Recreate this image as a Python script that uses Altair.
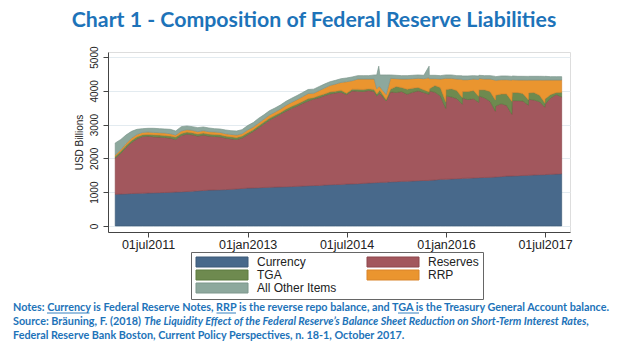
import altair as alt
import pandas as pd

# ---------------- data (USD billions) ----------------
dates = [
    "2011-01-01", "2011-02-01", "2011-03-01", "2011-04-01", "2011-05-01", "2011-06-01",
    "2011-07-01", "2011-08-01", "2011-09-01", "2011-10-01", "2011-11-01", "2011-12-01",
    "2012-01-01", "2012-02-01", "2012-03-01", "2012-04-01", "2012-05-01", "2012-06-01",
    "2012-07-01", "2012-08-01", "2012-09-01", "2012-10-01", "2012-11-01", "2012-12-01",
    "2013-01-01", "2013-02-01", "2013-03-01", "2013-04-01", "2013-05-01", "2013-06-01",
    "2013-07-01", "2013-08-01", "2013-09-01", "2013-10-01", "2013-11-01", "2013-12-01",
    "2014-01-01", "2014-02-01", "2014-03-01", "2014-04-01", "2014-05-01", "2014-06-01",
    "2014-07-01", "2014-08-01", "2014-09-01", "2014-10-01", "2014-11-01", "2014-12-01",
    "2014-12-15", "2014-12-26",
    "2015-01-01", "2015-02-05", "2015-03-01", "2015-04-01", "2015-05-01", "2015-06-01",
    "2015-07-01", "2015-08-01", "2015-09-01", "2015-09-30", "2015-10-01", "2015-11-01",
    "2015-12-01", "2015-12-31",
    "2016-01-01", "2016-02-01", "2016-03-01", "2016-03-31", "2016-04-01", "2016-05-01",
    "2016-06-01", "2016-06-30", "2016-07-01", "2016-08-01", "2016-09-01", "2016-09-30",
    "2016-10-01", "2016-11-01", "2016-12-01", "2016-12-30",
    "2017-01-01", "2017-02-01", "2017-03-01", "2017-03-31", "2017-04-01", "2017-05-01",
    "2017-06-01", "2017-06-30", "2017-07-01", "2017-08-01", "2017-09-01", "2017-10-01",
]

currency = [
    940, 945, 950, 960, 965, 970, 975, 980, 985, 990, 995, 1005,
    1010, 1020, 1030, 1040, 1050, 1060, 1065, 1070, 1075, 1085, 1095, 1110,
    1120, 1125, 1130, 1140, 1145, 1150, 1155, 1160, 1165, 1175, 1180, 1190,
    1195, 1200, 1210, 1220, 1225, 1230, 1240, 1245, 1250, 1260, 1270, 1280,
    1283, 1285,
    1290, 1295, 1305, 1310, 1320, 1325, 1330, 1340, 1345, 1348, 1350, 1360,
    1380, 1384,
    1385, 1390, 1400, 1405, 1410, 1415, 1420, 1428, 1430, 1435, 1440, 1448,
    1450, 1460, 1475, 1478,
    1480, 1485, 1495, 1498, 1500, 1510, 1515, 1518, 1520, 1530, 1535, 1545,
]

reserves = [
    1070, 1205, 1370, 1510, 1615, 1680, 1685, 1660, 1645, 1630, 1605, 1555,
    1670, 1700, 1670, 1620, 1640, 1600, 1585, 1570, 1525, 1495, 1465, 1490,
    1580, 1675, 1770, 1880, 1985, 2070, 2155, 2240, 2315, 2375, 2450, 2510,
    2565, 2600, 2650, 2690, 2715, 2730, 2650, 2755, 2740, 2720, 2740, 2700,
    2567, 2615,
    2635, 2405, 2665, 2640, 2660, 2575, 2630, 2660, 2605, 2552, 2650, 2600,
    2470, 2096,
    2465, 2430, 2370, 2200, 2380, 2325, 2350, 2230, 2420, 2355, 2250, 1950,
    2100, 2160, 2095, 1830,
    2230, 2225, 2205, 2080, 2250, 2220, 2165, 2000, 2080, 2260, 2355, 2275,
]

tga = [
    50, 60, 60, 60, 60, 50, 50, 60, 60, 60, 60, 70,
    60, 60, 60, 60, 60, 60, 60, 60, 60, 60, 60, 60,
    60, 50, 60, 60, 60, 60, 50, 60, 60, 60, 60, 70,
    40, 60, 50, 60, 50, 60, 40, 50, 60, 60, 50, 60,
    60, 80,
    95, 40, 80, 180, 120, 150, 120, 100, 80, 70, 60, 200,
    250, 200,
    190, 240, 240, 200, 190, 240, 240, 180, 180, 240, 290, 330,
    320, 290, 340, 380,
    240, 240, 220, 160, 190, 220, 190, 130, 160, 100, 60, 140,
]

rrp = [
    40, 50, 60, 70, 70, 70, 70, 70, 70, 70, 70, 60,
    70, 70, 70, 70, 70, 70, 70, 70, 70, 70, 70, 70,
    80, 80, 80, 80, 90, 90, 100, 110, 120, 130, 140, 150,
    130, 150, 170, 190, 210, 230, 340, 250, 300, 310, 290, 310,
    150, 150,
    100, 150, 320, 230, 250, 300, 280, 270, 330, 420, 300, 200,
    250, 690,
    330, 310, 340, 540, 350, 350, 340, 500, 340, 320, 370, 590,
    440, 420, 420, 630,
    380, 370, 400, 580, 380, 370, 450, 670, 560, 430, 370, 360,
]

other = [
    355, 300, 250, 200, 150, 110, 110, 120, 120, 120, 130, 120,
    130, 110, 110, 120, 110, 110, 100, 100, 110, 110, 120, 120,
    130, 130, 140, 130, 130, 120, 120, 120, 120, 120, 120, 120,
    120, 120, 120, 110, 110, 110, 110, 110, 100, 100, 100, 120,
    410, 600,
    350, 580, 100, 100, 100, 100, 100, 100, 100, 340, 100, 100,
    100, 100,
    100, 100, 100, 100, 110, 110, 100, 100, 90, 100, 100, 110,
    110, 110, 110, 110,
    110, 110, 110, 110, 110, 110, 110, 110, 110, 100, 100, 100,
]

series_names = ["Currency", "Reserves", "TGA", "RRP", "All Other Items"]
series_fill = ["#48698b", "#a2575d", "#6e8a4f", "#ea952f", "#8da89d"]
series_line = ["#3d5b78", "#8e474d", "#5d7a40", "#d9842a", "#7c978c"]

x_tick_labels = [(2011, 7), (2013, 1), (2014, 7), (2016, 1), (2017, 7)]
y_tick_values = [0, 1000, 2000, 3000, 4000, 5000]

title_text = "Chart 1 - Composition of Federal Reserve Liabilities"
note_line1 = ("Notes: Currency is Federal Reserve Notes, RRP is the reverse repo balance, "
              "and TGA is the Treasury General Account balance.")
note_line2a = "Source: Bräuning, F. (2018)"
note_line2b = ("The Liquidity Effect of the Federal Reserve’s Balance Sheet Reduction "
               "on Short-Term Interest Rates,")
note_line3 = "Federal Reserve Bank Boston, Current Policy Perspectives, n. 18-1, October 2017."

# ---------------- table ----------------
columns = [currency, reserves, tga, rrp, other]
assert all(len(c) == len(dates) for c in columns)
rows = []
for i, d in enumerate(dates):
    for k, name in enumerate(series_names):
        rows.append({"date": d, "series": name, "ord": k, "value": columns[k][i]})
df = pd.DataFrame(rows)

FONT = "Liberation Sans"
BLUE = "#1d73b9"

x_axis = alt.Axis(
    values=[alt.DateTime(year=y, month=m, date=1, utc=True) for y, m in x_tick_labels],
    labelExpr="lower(utcFormat(datum.value, '%d%b%Y'))",
    title=None, grid=False, tickSize=5, labelPadding=1,
    labelFont=FONT, labelFontSize=12.5, labelColor="#222",
    domainColor="#444", tickColor="#444", labelFlush=False, labelOverlap=False,
)
y_axis = alt.Axis(
    values=y_tick_values, format="d", labelAngle=270, labelAlign="center",
    labelBaseline="bottom", labelPadding=4, labelFont=FONT, labelFontSize=10,
    labelColor="#222",
    title="USD Billions", titleFont=FONT, titleFontSize=10, titleFontWeight="normal",
    titleColor="#222", titlePadding=5,
    grid=True, gridColor="#e3ebf0", gridWidth=1, tickSize=5,
    domainColor="#444", tickColor="#444",
)

legend = alt.Legend(
    orient="none", legendX=83, legendY=200, columns=2, direction="horizontal", title=None,
    symbolType="M-1,-1H9.4V1H-1Z", symbolSize=100, symbolStrokeWidth=1,
    symbolStrokeColor="rgba(0,0,0,0.3)", symbolOpacity=1, symbolOffset=0,
    labelOffset=50, labelFont=FONT, labelFontSize=12, labelColor="#222", labelLimit=300,
    padding=4, rowPadding=-2, columnPadding=28,
    strokeColor="#666", fillColor="white", cornerRadius=0,
)

area = alt.Chart(df).mark_area(strokeWidth=0.7).encode(
    x=alt.X("date:T", axis=x_axis,
            scale=alt.Scale(type="utc", domain=[
                alt.DateTime(year=2010, month=11, date=22, utc=True),
                alt.DateTime(year=2017, month=11, date=16, utc=True)])),
    y=alt.Y("value:Q", stack="zero", axis=y_axis,
            scale=alt.Scale(domain=[-180, 5150], nice=False, zero=False)),
    color=alt.Color("series:N", scale=alt.Scale(domain=series_names, range=series_fill),
                    legend=legend),
    stroke=alt.Stroke("series:N", scale=alt.Scale(domain=series_names, range=series_line),
                      legend=None),
    order=alt.Order("ord:Q", sort="ascending"),
)

one = pd.DataFrame({"a": [0]})

def text_layer(txt, x, y, size, weight="bold", style="normal", align="left", font="Lato"):
    return alt.Chart(one).mark_text(
        text=txt, align=align, baseline="alphabetic", font=font, fontSize=size,
        fontWeight=weight, fontStyle=style, color=BLUE,
    ).encode(x=alt.value(x), y=alt.value(y))

def underline(x1, x2, y):
    return alt.Chart(one).mark_rule(color=BLUE, strokeWidth=0.9).encode(
        x=alt.value(x1), x2=alt.value(x2), y=alt.value(y))

title = text_layer(title_text, 206, -25, 21.3, align="center")
n1 = text_layer(note_line1, -95, 259, 10.8)
n2a = text_layer(note_line2a, -95, 273, 10.8)
n2b = text_layer(note_line2b, 36, 273, 10.8, style="italic")
n3 = text_layer(note_line3, -95, 287, 10.8)
u1 = underline(-61, -18.5, 261)
u2 = underline(108.5, 128, 261)
u3 = underline(290, 311, 261)

chart = alt.layer(area, title, n1, n2a, n2b, n3, u1, u2, u3).properties(
    width=462, height=180,
    autosize=alt.AutoSizeParams(type="none"),
    padding={"left": 108, "top": 52, "right": 65, "bottom": 125},
).configure_view(stroke=None).configure(background="white")

chart.save("out.html", embed_options={"renderer": "svg", "actions": False})
